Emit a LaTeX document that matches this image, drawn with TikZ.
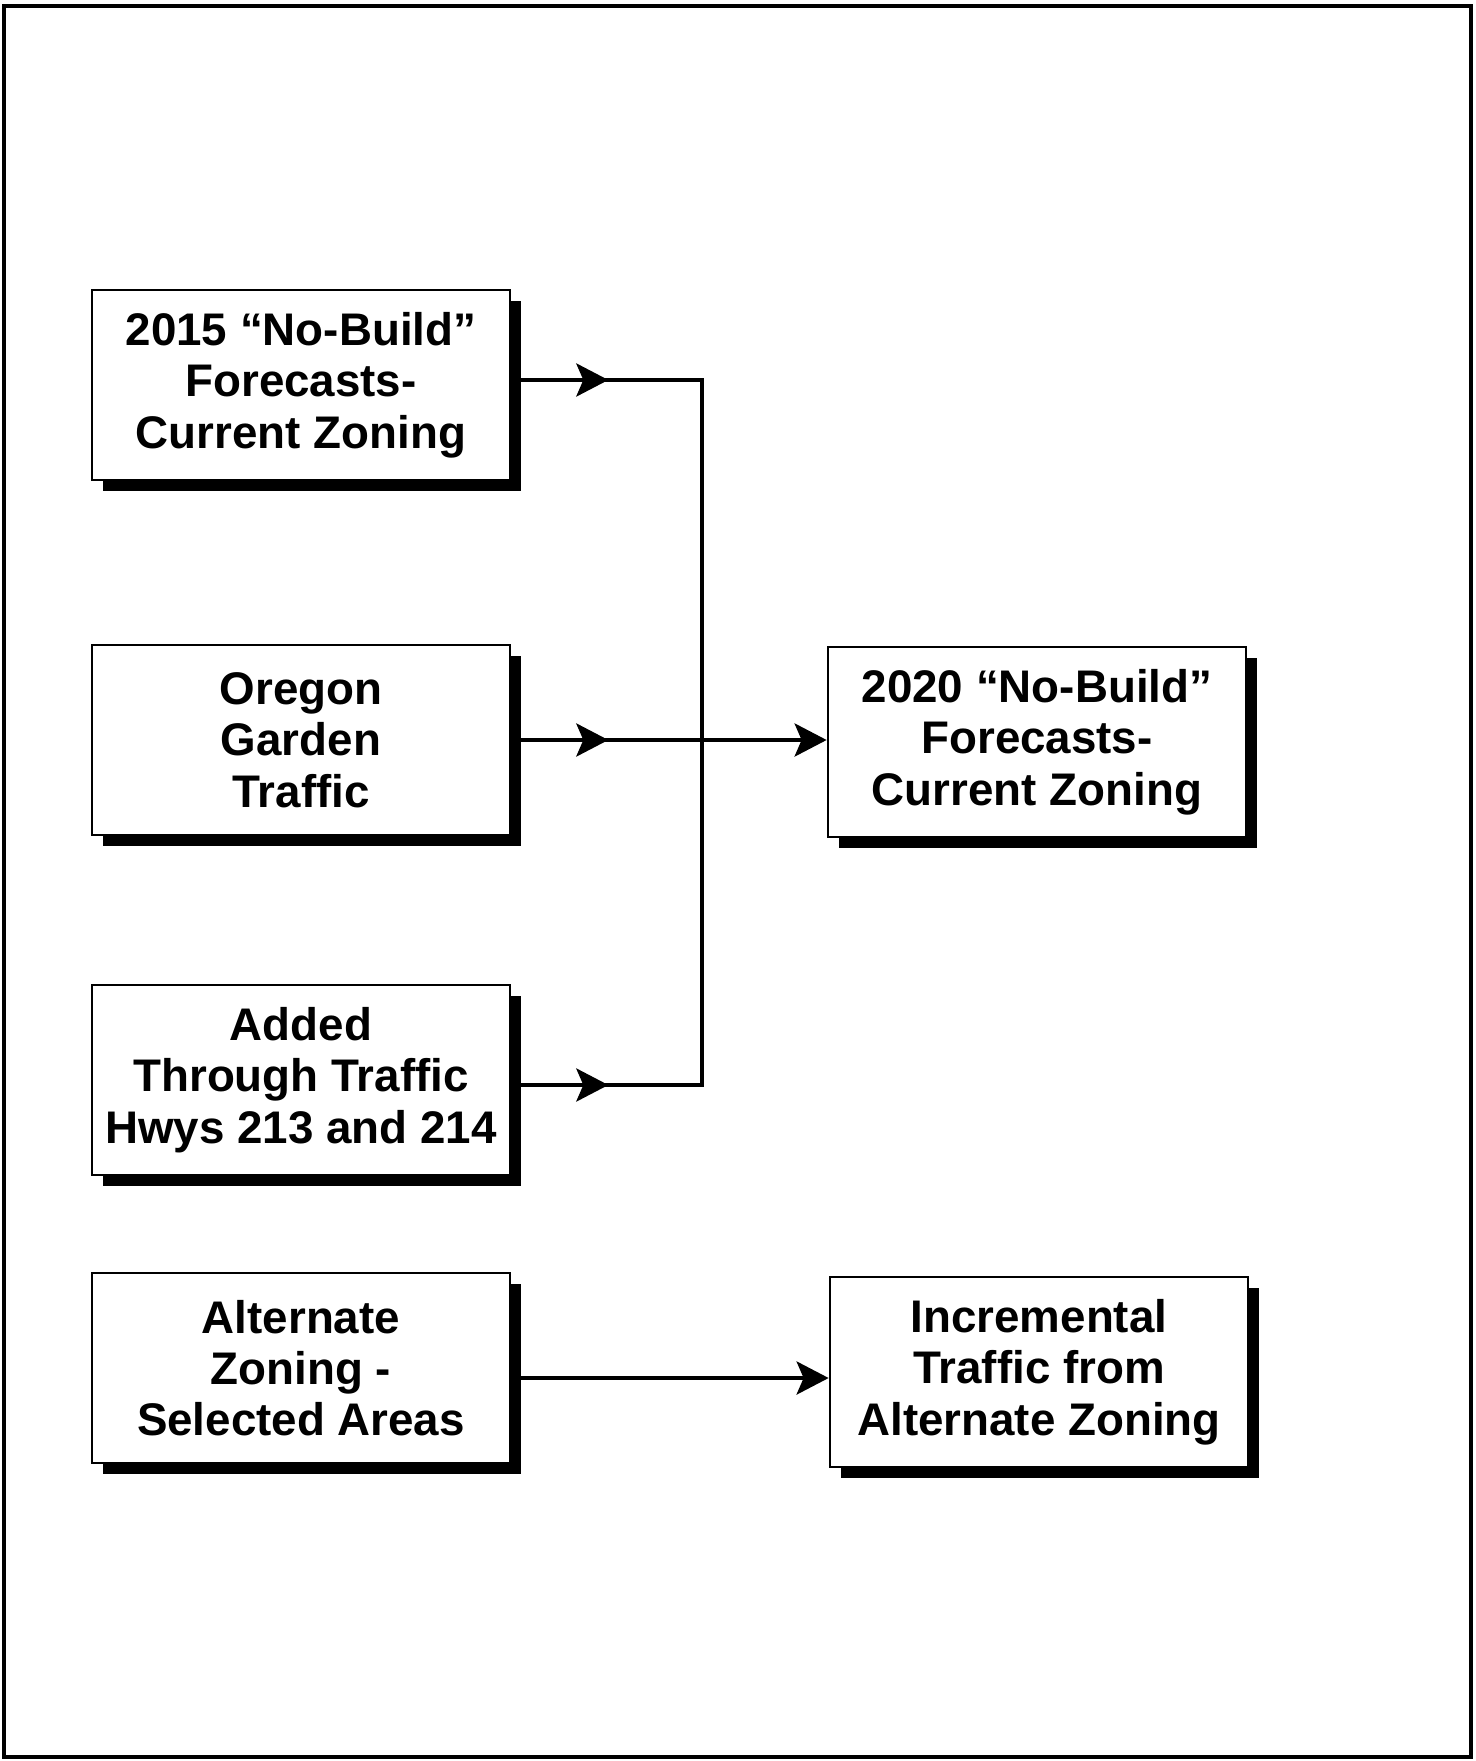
\documentclass[tikz,border=0pt]{standalone}
\usepackage{fontspec}
\setmainfont{Liberation Sans}
\usetikzlibrary{arrows.meta,shadows}
\tikzset{
  fcbox/.style={draw, line width=0.7pt, fill=white, minimum width=4.18cm,
    minimum height=1.9cm, align=center, inner sep=0pt,
    font=\fontsize{13}{14.6}\selectfont\bfseries,
    drop shadow={shadow xshift=0.11cm, shadow yshift=-0.11cm, fill=black, opacity=1}},
  flow/.style={line width=1.2pt, -{Stealth[length=0.32cm,width=0.33cm,inset=0.07cm]}},
  wire/.style={line width=1.2pt},
}
\begin{document}
\begin{tikzpicture}[x=0.01cm,y=-0.01cm]
			\useasboundingbox (0,0) rectangle (1475,1761);
			\draw [line width=1.3pt] (4,6) rectangle (1471,1757);
			% input boxes
			\node [fcbox] (f2015) at (301,385) {2015 “No-Build”\\Forecasts-\\Current Zoning};
			\node [fcbox] (garden) at (301,740) {Oregon\\Garden\\Traffic};
			\node [fcbox] (added) at (301,1080) {Added\\Through Traffic\\Hwys 213 and 214};
			\node [fcbox] (altzone) at (301,1368) {Alternate\\Zoning -\\Selected Areas};
			% result boxes
			\node [fcbox] (f2020) at (1037,742) {2020 “No-Build”\\Forecasts-\\Current Zoning};
			\node [fcbox] (increm) at (1039,1372) {Incremental\\Traffic from\\Alternate Zoning};
			% connectors
			\coordinate (trunk) at (702,740);
			\coordinate (a1) at ([yshift=0.05cm]f2015.east);
			\coordinate (a3) at ([yshift=-0.05cm]added.east);
			\coordinate (a4) at ([yshift=-0.1cm]altzone.east);
			\draw [wire] (a1) -| (trunk) |- (a3);
			\draw [flow] (a1) -- ++(97,0);
			\draw [flow] (a3) -- ++(97,0);
			\draw [flow] (garden.east) -- ++(97,0);
			\draw [flow] (garden.east) -- (garden.east -| f2020.west);
			\draw [flow] (a4) -- (a4 -| increm.west);
		\end{tikzpicture}
\end{document}
